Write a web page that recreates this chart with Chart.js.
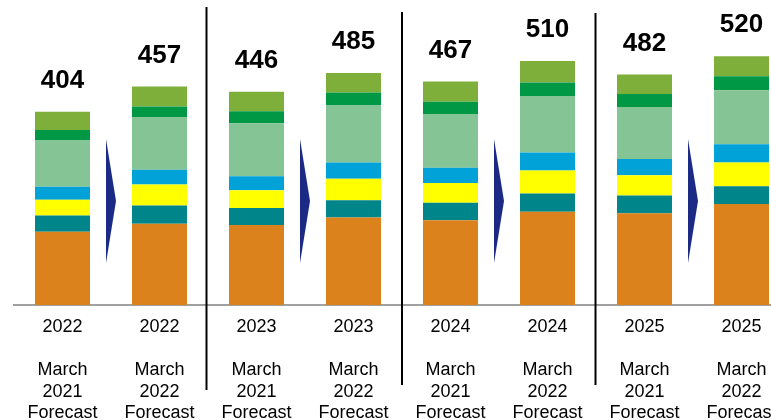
<!DOCTYPE html>
<html>
<head>
<meta charset="utf-8">
<script src="https://cdn.jsdelivr.net/npm/chart.js@4.4.1/dist/chart.umd.min.js"></script>
<style>
  html, body { margin: 0; padding: 0; background: #fff; overflow: hidden; }
  #wrap { width: 800px; height: 435px; position: relative; }
</style>
</head>
<body>
<div id="wrap"><canvas id="chart"></canvas></div>
<script>
// === DATA ===
const years = ['2022', '2022', '2023', '2023', '2024', '2024', '2025', '2025'];
const forecastYears = ['2021', '2022', '2021', '2022', '2021', '2022', '2021', '2022'];
const totals = [404, 457, 446, 485, 467, 510, 482, 520];

// segments, bottom to top
const orangeVals = [153, 170, 167, 183, 177, 195, 192, 211];
const tealVals = [34, 38, 36, 36, 37, 38, 37, 37];
const yellowVals = [33, 44, 37, 45, 41, 48, 42, 50];
const blueVals = [27, 31, 29, 34, 32, 38, 34, 38];
const lightGreenVals = [97, 110, 111, 119, 111, 118, 109, 113];
const greenVals = [22, 22, 25, 27, 27, 28, 27, 29];
const oliveVals = [38, 42, 41, 41, 42, 45, 41, 42];

const labels = years.map((y, i) => [y, '', 'March', forecastYears[i], 'Forecast']);

const FONT = '"Liberation Sans", Arial, sans-serif';

function seg(data, color) {
    return {
        data: data,
        backgroundColor: color,
        borderWidth: 0,
        barPercentage: 1,
        categoryPercentage: 55 / 97
    };
}

// === DECORATIONS: dividers, arrows, totals ===
const decorPlugin = {
    id: 'decor',
    afterDatasetsDraw(chart) {
        const ctx = chart.ctx;
        const x = chart.scales.x;
        const y = chart.scales.y;

        // vertical dividers between year groups
        const dividers = [[1.5, 7, 390, -1.5], [3.5, 12, 385, 0], [5.5, 13, 385, -0.5]];
        ctx.save();
        ctx.strokeStyle = '#000';
        ctx.lineWidth = 2;
        dividers.forEach(d => {
            const px = x.getPixelForValue(d[0]) + d[3];
            ctx.beginPath();
            ctx.moveTo(px, d[1]);
            ctx.lineTo(px, d[2]);
            ctx.stroke();
        });

        // arrows between forecasts
        ctx.fillStyle = '#1b2a84';
        [0.5, 2.5, 4.5, 6.5].forEach(v => {
            const mid = x.getPixelForValue(v);
            ctx.beginPath();
            ctx.moveTo(mid - 5, 139);
            ctx.lineTo(mid + 5, 201);
            ctx.lineTo(mid - 5, 263);
            ctx.closePath();
            ctx.fill();
        });

        // totals
        ctx.fillStyle = '#000';
        ctx.font = 'bold 26px ' + FONT;
        ctx.textAlign = 'center';
        ctx.textBaseline = 'middle';
        totals.forEach((t, i) => {
            ctx.fillText(String(t), x.getPixelForValue(i), y.getPixelForValue(t) - 31);
        });
        ctx.restore();
    }
};

new Chart(document.getElementById('chart'), {
    type: 'bar',
    data: {
        labels: labels,
        datasets: [
            seg(orangeVals, '#dc821c'),
            seg(tealVals, '#00868a'),
            seg(yellowVals, '#ffff00'),
            seg(blueVals, '#00a2d8'),
            seg(lightGreenVals, '#85c494'),
            seg(greenVals, '#009844'),
            seg(oliveVals, '#7faf3b')
        ]
    },
    options: {
        responsive: true,
        maintainAspectRatio: false,
        animation: false,
        layout: { padding: { left: 14, right: 10, top: 18, bottom: 0 } },
        plugins: {
            legend: { display: false },
            tooltip: { enabled: false }
        },
        scales: {
            x: {
                stacked: true,
                grid: { display: false, drawTicks: false },
                border: { display: true, color: '#a0a0a0', width: 2 },
                ticks: {
                    color: '#000',
                    font: { family: FONT, size: 18, lineHeight: 1.2 },
                    padding: 11,
                    maxRotation: 0,
                    autoSkip: false
                }
            },
            y: {
                stacked: true,
                display: false,
                min: 0,
                max: 600
            }
        }
    },
    plugins: [decorPlugin]
});
</script>
</body>
</html>
